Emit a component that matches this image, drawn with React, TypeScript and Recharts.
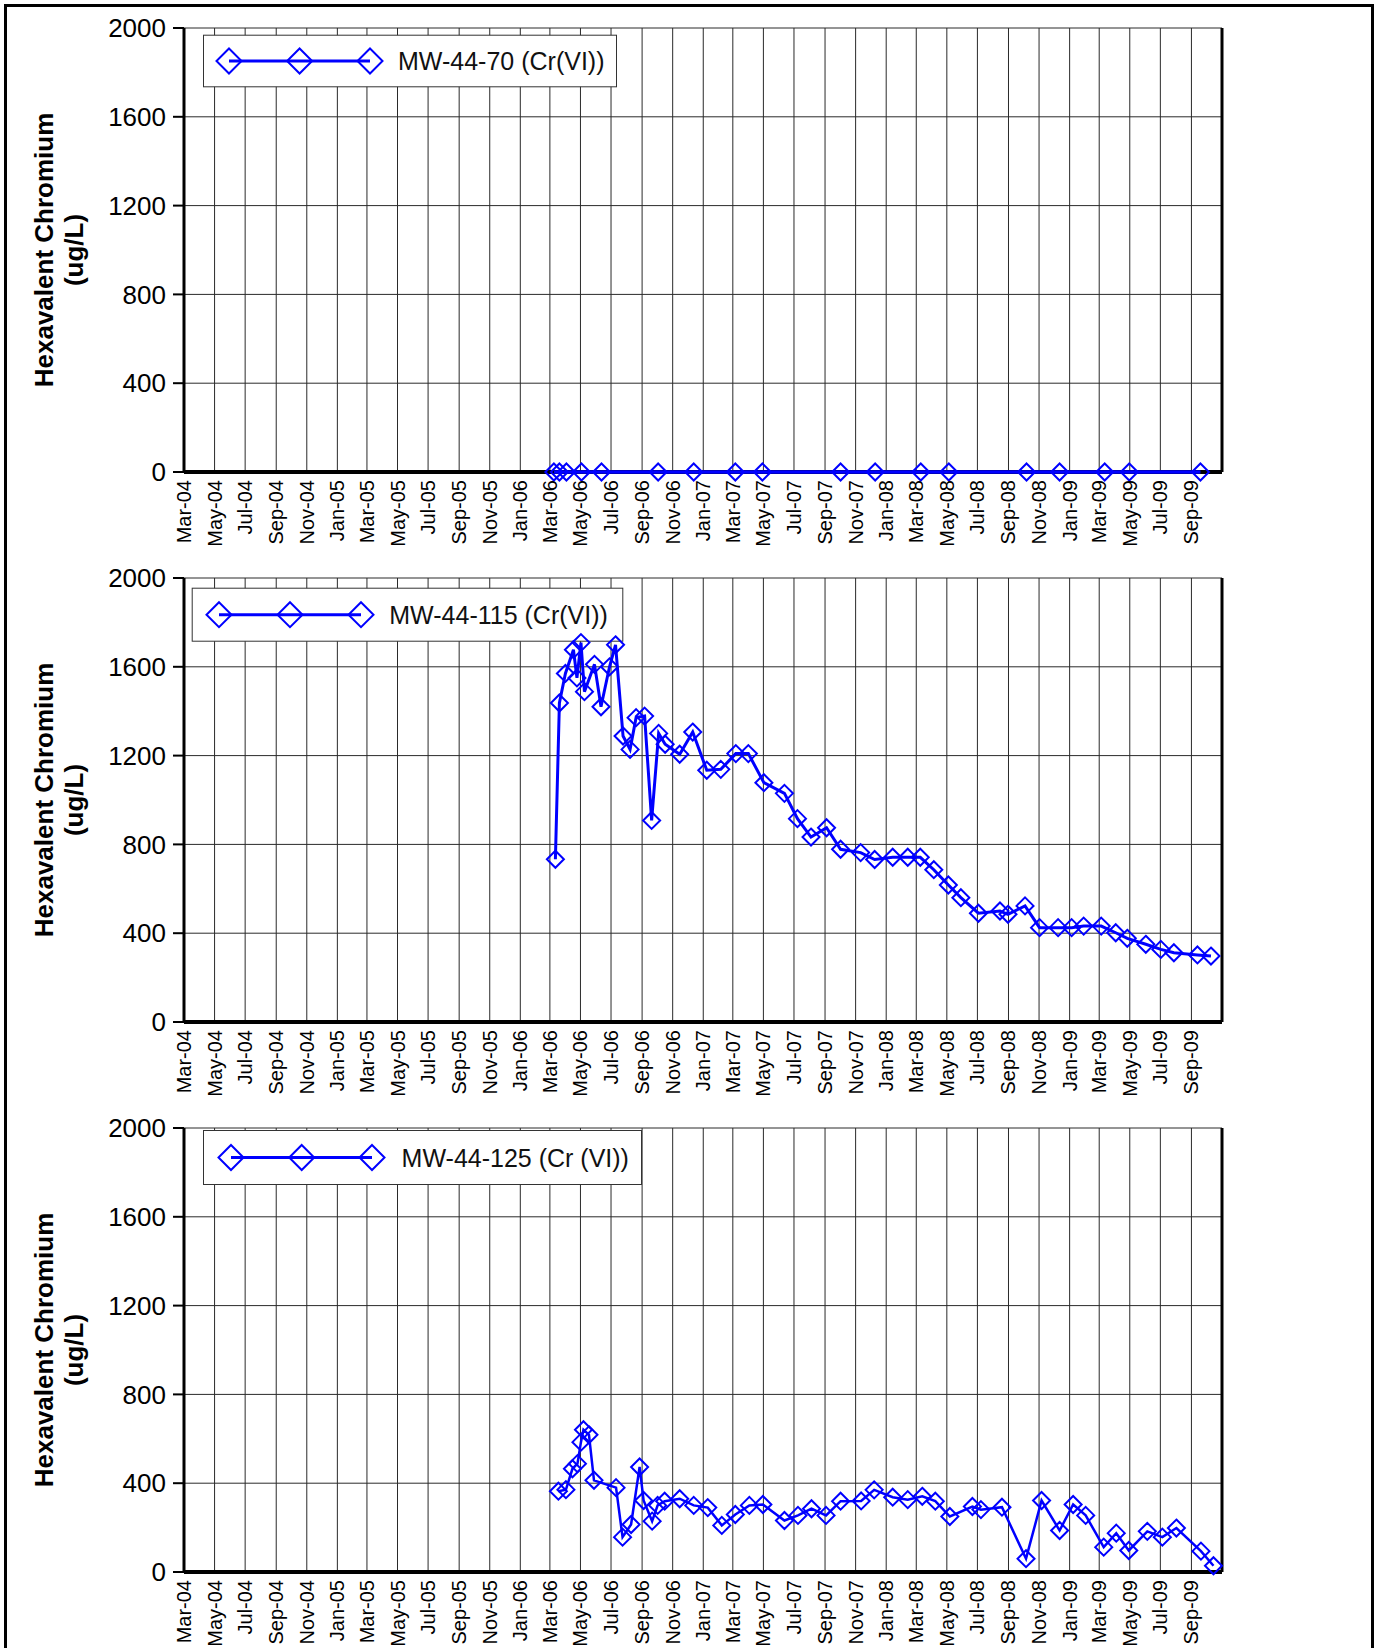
import React from 'react';
import { LineChart, Line, XAxis, YAxis, CartesianGrid, ReferenceLine } from 'recharts';

const FONT = '"Liberation Sans", Arial, Helvetica, sans-serif';
const BLUE = '#0000FF';

const tickLabels = [
  'Mar-04', 'May-04', 'Jul-04', 'Sep-04', 'Nov-04', 'Jan-05', 'Mar-05', 'May-05', 'Jul-05', 'Sep-05',
  'Nov-05', 'Jan-06', 'Mar-06', 'May-06', 'Jul-06', 'Sep-06', 'Nov-06', 'Jan-07', 'Mar-07', 'May-07',
  'Jul-07', 'Sep-07', 'Nov-07', 'Jan-08', 'Mar-08', 'May-08', 'Jul-08', 'Sep-08', 'Nov-08', 'Jan-09',
  'Mar-09', 'May-09', 'Jul-09', 'Sep-09',
];
const yTicks = [0, 400, 800, 1200, 1600, 2000];

const mw70Dates = [
  '2006-03-09', '2006-03-20', '2006-04-03', '2006-05-03', '2006-06-12', '2006-10-03', '2006-12-13',
  '2007-03-06', '2007-04-29', '2007-10-02', '2007-12-10', '2008-03-10', '2008-05-05', '2008-10-07',
  '2008-12-12', '2009-03-12', '2009-04-30', '2009-09-19',
];
const mw70Values = [0, 0, 0, 0, 0, 0, 0, 0, 0, 0, 0, 0, 0, 0, 0, 0, 0, 0];

const mw115Dates = [
  '2006-03-12', '2006-03-20', '2006-04-01', '2006-04-17', '2006-04-24', '2006-05-02', '2006-05-09',
  '2006-05-29', '2006-06-11', '2006-06-28', '2006-07-10', '2006-07-25', '2006-08-08', '2006-08-20',
  '2006-09-06', '2006-09-20', '2006-10-04', '2006-10-17', '2006-11-15', '2006-12-11', '2007-01-08',
  '2007-02-05', '2007-03-07', '2007-04-01', '2007-05-02', '2007-06-12', '2007-07-08', '2007-08-04',
  '2007-09-04', '2007-10-02', '2007-11-11', '2007-12-09', '2008-01-14', '2008-02-13', '2008-03-09',
  '2008-04-05', '2008-05-04', '2008-05-29', '2008-07-03', '2008-08-15', '2008-08-31', '2008-10-04',
  '2008-11-02', '2008-12-09', '2009-01-05', '2009-01-29', '2009-03-05', '2009-04-03', '2009-04-26',
  '2009-06-02', '2009-07-02', '2009-07-28', '2009-09-13', '2009-10-10',
];
const mw115Values = [
  733, 1437, 1570, 1677, 1550, 1709, 1488,
  1611, 1420, 1600, 1699, 1288, 1228, 1371,
  1378, 908, 1300, 1251, 1206, 1306, 1134,
  1138, 1209, 1209, 1078, 1030, 916, 833,
  875, 778, 763, 732, 742, 742, 742,
  686, 617, 560, 490, 500, 485, 523,
  425, 425, 425, 432, 432, 402, 377,
  350, 327, 312, 302, 297,
];

const mw125Dates = [
  '2006-03-18', '2006-04-02', '2006-04-15', '2006-04-25', '2006-05-02', '2006-05-07', '2006-05-18',
  '2006-05-28', '2006-07-11', '2006-07-24', '2006-08-10', '2006-08-27', '2006-09-04', '2006-09-21',
  '2006-10-02', '2006-10-16', '2006-11-15', '2006-12-13', '2007-01-10', '2007-02-07', '2007-03-06',
  '2007-04-03', '2007-04-30', '2007-06-12', '2007-07-09', '2007-08-05', '2007-09-03', '2007-10-02',
  '2007-11-12', '2007-12-08', '2008-01-14', '2008-02-13', '2008-03-13', '2008-04-08', '2008-05-07',
  '2008-06-21', '2008-07-08', '2008-08-19', '2008-10-06', '2008-11-06', '2008-12-12', '2009-01-08',
  '2009-02-02', '2009-03-10', '2009-04-04', '2009-04-29', '2009-06-05', '2009-07-05', '2009-08-02',
  '2009-09-20', '2009-10-15',
];
const mw125Values = [
  364, 371, 465, 488, 585, 641, 618,
  413, 380, 157, 214, 473, 322, 229,
  300, 319, 330, 300, 290, 210, 259,
  300, 304, 232, 255, 285, 255, 319,
  320, 370, 337, 326, 341, 319, 250,
  295, 281, 292, 60, 322, 187, 304,
  255, 112, 175, 97, 183, 157, 198,
  94, 28,
];

const MONTHS = ['Jan', 'Feb', 'Mar', 'Apr', 'May', 'Jun', 'Jul', 'Aug', 'Sep', 'Oct', 'Nov', 'Dec'];
const labelToTime = (s: string) => {
  const [mon, yy] = s.split('-');
  return Date.UTC(2000 + Number(yy), MONTHS.indexOf(mon), 1);
};
const xTicks = tickLabels.map(labelToTime);
const xStart = Date.UTC(2004, 2, 1);
const xEnd = Date.UTC(2009, 10, 1);

const buildData = (dates: string[], values: number[]) =>
  dates.map((d, i) => ({ t: Date.parse(d), v: values[i] }));

const makeDiamond = (r: number, sw: number) => (props: any) => {
  const { cx, cy, index } = props;
  if (cx == null || cy == null) return <g key={`d-${index}`} />;
  return (
    <path
      key={`d-${index}`}
      d={`M${cx},${cy - r}L${cx + r},${cy}L${cx},${cy + r}L${cx - r},${cy}Z`}
      fill="none"
      stroke={BLUE}
      strokeWidth={sw}
    />
  );
};

const XTick = (props: any) => {
  const { x, y, payload } = props;
  const idx = xTicks.indexOf(payload.value);
  const label = idx >= 0 ? tickLabels[idx] : '';
  return (
    <text
      x={x}
      y={y}
      transform={`rotate(-90, ${x}, ${y})`}
      textAnchor="end"
      dominantBaseline="central"
      fontSize={20}
      fontFamily={FONT}
      fill="#000"
    >
      {label}
    </text>
  );
};

const YTitle = (props: any) => {
  const vb = props.viewBox || { x: 0, y: 0, width: 0, height: 0 };
  const cy = vb.y + vb.height / 2;
  return (
    <g>
      <text
        x={44}
        y={cy}
        transform={`rotate(-90, 44, ${cy})`}
        textAnchor="middle"
        dominantBaseline="central"
        fontSize={26}
        fontWeight="bold"
        fontFamily={FONT}
        fill="#000"
      >
        Hexavalent Chromium
      </text>
      <text
        x={74}
        y={cy}
        transform={`rotate(-90, 74, ${cy})`}
        textAnchor="middle"
        dominantBaseline="central"
        fontSize={26}
        fontWeight="bold"
        fontFamily={FONT}
        fill="#000"
      >
        (ug/L)
      </text>
    </g>
  );
};

type LegendBox = { left: number; top: number; width: number; height: number; m: number[]; tx: number };

const LegendGroup = ({ name, box }: { name: string; box: LegendBox }) => {
  const cy = box.height / 2;
  const r = 12.5;
  const d = (cx: number) => `M${cx},${cy - r}L${cx + r},${cy}L${cx},${cy + r}L${cx - r},${cy}Z`;
  return (
    <g transform={`translate(${box.left}, ${box.top})`}>
      <rect x={0.5} y={0.5} width={box.width - 1} height={box.height - 1} fill="#fff" stroke="#333" strokeWidth={1} />
      <line x1={box.m[0]} y1={cy} x2={box.m[2]} y2={cy} stroke={BLUE} strokeWidth={3} />
      {box.m.map((cx, i) => (
        <path key={i} d={d(cx)} fill="none" stroke={BLUE} strokeWidth={2} />
      ))}
      <text x={box.tx} y={cy + 9} fontSize={25} fontFamily={FONT} fill="#111">
        {name}
      </text>
    </g>
  );
};

type Panel = {
  name: string;
  data: { t: number; v: number }[];
  top: number;
  height: number;
  legend: LegendBox;
  lineWidth: number;
};

const panels: Panel[] = [
  {
    name: 'MW-44-70 (Cr(VI))',
    data: buildData(mw70Dates, mw70Values),
    top: 0,
    height: 550,
    legend: { left: 203, top: 34.7, width: 414, height: 52.6, m: [26, 96.6, 167], tx: 195 },
    lineWidth: 3.5,
  },
  {
    name: 'MW-44-115 (Cr(VI))',
    data: buildData(mw115Dates, mw115Values),
    top: 550,
    height: 550,
    legend: { left: 191.7, top: 37.7, width: 431.6, height: 54, m: [27.3, 98.3, 169.3], tx: 197.6 },
    lineWidth: 3,
  },
  {
    name: 'MW-44-125 (Cr (VI))',
    data: buildData(mw125Dates, mw125Values),
    top: 1100,
    height: 548,
    legend: { left: 203, top: 30, width: 439, height: 55, m: [28, 98.7, 169], tx: 198.6 },
    lineWidth: 2.5,
  },
];

const ChartPanel = ({ p }: { p: Panel }) => (
  <div style={{ position: 'absolute', left: 0, top: p.top }}>
    <LineChart
      width={1377}
      height={p.height}
      data={p.data}
      margin={{ top: 28, right: 155, bottom: 0, left: 0 }}
    >
      <CartesianGrid stroke="#2a2a2a" strokeWidth={1} horizontalValues={yTicks} verticalValues={xTicks} />
      <XAxis
        dataKey="t"
        type="number"
        scale="time"
        domain={[xStart, xEnd]}
        ticks={xTicks}
        interval={0}
        height={p.height - 28 - 444}
        axisLine={{ stroke: '#000', strokeWidth: 4 }}
        tickLine={false}
        tickSize={5}
        tickMargin={3}
        tick={<XTick />}
      />
      <YAxis
        type="number"
        domain={[0, 2000]}
        ticks={yTicks}
        interval={0}
        width={184}
        axisLine={{ stroke: '#000', strokeWidth: 3 }}
        tickLine={{ stroke: '#000', strokeWidth: 2 }}
        tickSize={11}
        tickMargin={7}
        tick={{ fontSize: 26, fill: '#000', fontFamily: FONT }}
        label={{ content: (lp: any) => <YTitle {...lp} /> }}
      />
      <ReferenceLine x={xEnd} stroke="#000" strokeWidth={3} />
      <LegendGroup name={p.name} box={p.legend} />
      <Line
        type="linear"
        dataKey="v"
        stroke={BLUE}
        strokeWidth={p.lineWidth}
        dot={makeDiamond(8.5, 2)}
        activeDot={false}
        isAnimationActive={false}
        legendType="diamond"
        zIndex={1000}
      />
    </LineChart>
  </div>
);

export default function App() {
  return (
    <div
      style={{
        position: 'absolute',
        left: 0,
        top: 0,
        width: 1377,
        height: 1648,
        overflow: 'hidden',
        background: '#fff',
        fontFamily: FONT,
      }}
    >
      {panels.map((p, i) => (
        <ChartPanel key={i} p={p} />
      ))}
      <div
        style={{
          position: 'absolute',
          left: 4,
          top: 4,
          width: 1369.5,
          height: 1660,
          boxSizing: 'border-box',
          borderTop: '3px solid #000',
          borderLeft: '3px solid #000',
          borderRight: '3px solid #000',
          pointerEvents: 'none',
        }}
      />
    </div>
  );
}
